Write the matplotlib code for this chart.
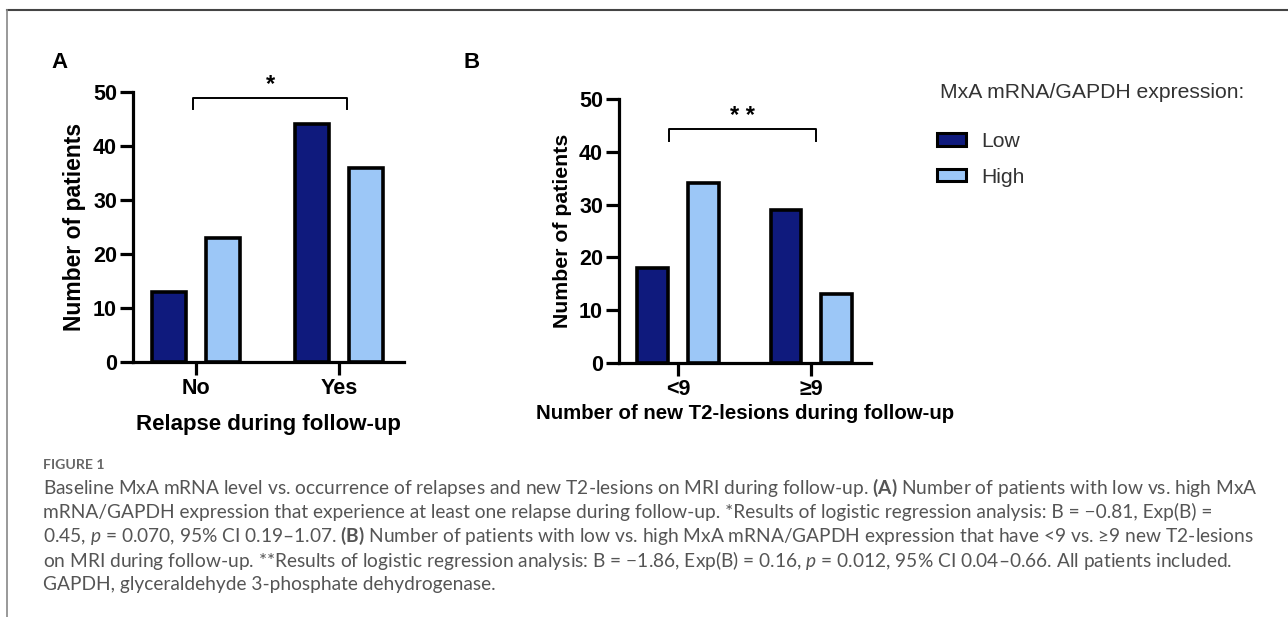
import matplotlib
matplotlib.use("Agg")
import matplotlib.pyplot as plt
from matplotlib.patches import Patch
from matplotlib.lines import Line2D
import numpy as np

# ---- data ----
groups_a = ["No", "Yes"]
low_a = [13, 44]
high_a = [23, 36]
groups_b = ["<9", "≥9"]
low_b = [18, 29]
high_b = [34, 13]
series_names = ["Low", "High"]
yticks = [0, 10, 20, 30, 40, 50]
legend_title = "MxA mRNA/GAPDH expression:"
xlabel_a = "Relapse during follow-up"
xlabel_b = "Number of new T2-lesions during follow-up"
ylabel = "Number of patients"
sig_a = "*"
sig_b = "* *"

caption_head = "FIGURE 1"
caption_lines = [
    "Baseline MxA mRNA level vs. occurrence of relapses and new T2-lesions on MRI during follow-up. $\\mathbf{(A)}$ Number of patients with low vs. high MxA",
    "mRNA/GAPDH expression that experience at least one relapse during follow-up. *Results of logistic regression analysis: B = \u22120.81, Exp(B) =",
    "0.45, $p$ = 0.070, 95% CI 0.19\u20131.07. $\\mathbf{(B)}$ Number of patients with low vs. high MxA mRNA/GAPDH expression that have <9 vs. \u22659 new T2-lesions",
    "on MRI during follow-up. **Results of logistic regression analysis: B = \u22121.86, Exp(B) = 0.16, $p$ = 0.012, 95% CI 0.04\u20130.66. All patients included.",
    "GAPDH, glyceraldehyde 3-phosphate dehydrogenase.",
]

C_LOW = "#0f1a7d"
C_HIGH = "#9cc7f7"

W, H = 1288, 617
plt.rcParams['font.family'] = ['Liberation Sans', 'DejaVu Sans']
plt.rcParams['mathtext.fontset'] = 'custom'
plt.rcParams['mathtext.rm'] = 'Lato'
plt.rcParams['mathtext.it'] = 'Lato:italic'
plt.rcParams['mathtext.bf'] = 'Lato:bold'
fig = plt.figure(figsize=(W / 100, H / 100), dpi=100)

def px_axes(left, right, top, bottom):
    return fig.add_axes([left / W, 1 - bottom / H, (right - left) / W, (bottom - top) / H])

def draw_panel(ax, groups, low, high, offs, width, xlim, xlabel, xl_size, yl_size, xl_pad, sig,
               brx, bry, bry2, stary):
    x = np.arange(len(groups))
    ax.bar(x - offs, low, width, color=C_LOW, edgecolor="black", linewidth=2.6, zorder=3)
    ax.bar(x + offs, high, width, color=C_HIGH, edgecolor="black", linewidth=2.6, zorder=3)
    ax.set_xlim(*xlim)
    ax.set_ylim(0, 50)
    ax.set_yticks(yticks)
    ax.set_xticks(x)
    ax.set_xticklabels(groups)
    for s in ["top", "right"]:
        ax.spines[s].set_visible(False)
    for s in ["left", "bottom"]:
        ax.spines[s].set_linewidth(2.3)
    ax.tick_params(axis="both", width=2.3, length=9.5, labelsize=15.5, pad=2)
    for lab in ax.get_xticklabels() + ax.get_yticklabels():
        lab.set_fontweight("bold")
    ax.set_ylabel(ylabel, fontsize=yl_size, fontweight="bold", labelpad=5)
    ax.set_xlabel(xlabel, fontsize=xl_size, fontweight="bold", labelpad=xl_pad)
    ax.plot([brx[0], brx[0], brx[1], brx[1]], [bry2, bry, bry, bry2], color="black",
            lw=1.4, clip_on=False)
    ax.text(sum(brx) / 2, stary, sig, ha="center", va="center", fontsize=17, fontweight="bold",
            clip_on=False)

axA = px_axes(133, 404, 92, 362)
draw_panel(axA, groups_a, low_a, high_a, 0.187, 0.24, (-0.44, 1.455), xlabel_a, 16, 16.5, 10.5,
           sig_a, (-0.02, 1.056), 48.9, 46.8, 51.3)

axB = px_axes(619, 871, 99, 363)
draw_panel(axB, groups_b, low_b, high_b, 0.19, 0.23, (-0.444, 1.45), xlabel_b, 14.7, 15.3, 3,
           sig_b, (-0.068, 1.04), 44.3, 42.0, 46.6)

fig.text(60 / W, 1 - 62 / H, "A", fontsize=16, fontweight="bold", ha="center", va="center")
fig.text(472 / W, 1 - 62 / H, "B", fontsize=16, fontweight="bold", ha="center", va="center")

# legend
fig.text(940 / W, 1 - 93 / H, legend_title, fontsize=15.2, color="#333333", ha="left", va="center")
handles = [Patch(facecolor=C_LOW, edgecolor="black", linewidth=2.2),
           Patch(facecolor=C_HIGH, edgecolor="black", linewidth=2.2)]
leg = fig.legend(handles, series_names, loc="upper left",
                 bbox_to_anchor=(935 / W, 1 - 130 / H), frameon=False, fontsize=15.2,
                 handlelength=1.35, handleheight=0.55, labelspacing=0.78,
                 handletextpad=0.75, borderaxespad=0, borderpad=0.1)
for t in leg.get_texts():
    t.set_color("#333333")

# frame lines
fig.add_artist(Line2D([7 / W, 1], [1 - 10 / H, 1 - 10 / H], color="#444444", lw=1.5,
                      transform=fig.transFigure))
fig.add_artist(Line2D([7 / W, 7 / W], [0, 1 - 10 / H], color="#888888", lw=1.2,
                      transform=fig.transFigure))

# caption
cap_font = ['Lato', 'DejaVu Sans']
fig.text(43 / W, 1 - 465 / H, caption_head, fontsize=10.2, fontweight="bold", color="#666666",
         family=cap_font, va="center", ha="left")
for i, line in enumerate(caption_lines):
    fig.text(43 / W, 1 - (488 + 24.2 * i) / H, line, fontsize=13.8, color="#555555",
             family=cap_font, va="center", ha="left")

fig.savefig("out.png", dpi=100)
